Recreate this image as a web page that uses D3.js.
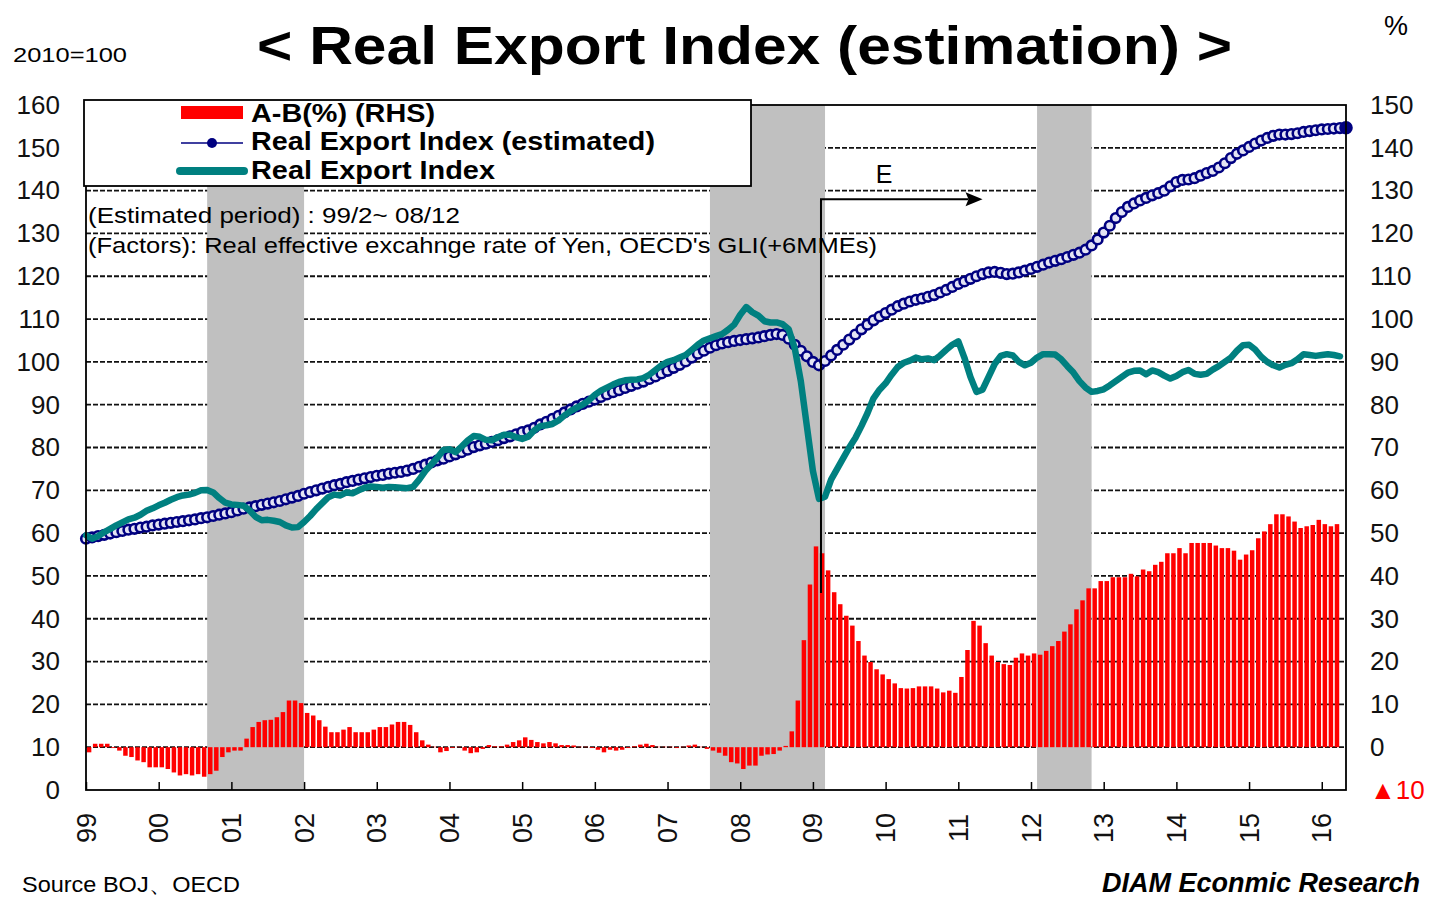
<!DOCTYPE html>
<html>
<head>
<meta charset="utf-8">
<script src="https://cdn.jsdelivr.net/npm/d3@7"></script>
<style>
  html, body { margin: 0; padding: 0; background: #fff; }
  svg { display: block; font-family: 'Liberation Sans', Arial, sans-serif; }
</style>
</head>
<body>
<svg id="chart" width="1429" height="899"></svg>
<script>

/**
 * Data (monthly, 1999/01 ~ 2016/05)
 */

const startYear = 1999;
const yearLabels = ['99', '00', '01', '02', '03', '04', '05', '06', '07', '08', '09', '10', '11', '12', '13', '14', '15', '16'];
const leftTicks = [0, 10, 20, 30, 40, 50, 60, 70, 80, 90, 100, 110, 120, 130, 140, 150, 160];
const rightTicks = [-10, 0, 10, 20, 30, 40, 50, 60, 70, 80, 90, 100, 110, 120, 130, 140, 150];

// Real Export Index (2010=100)
const exportIndex = [
  59.5, 58.7, 59.3, 60.2, 61.0, 61.8, 62.5, 63.2, 63.6, 64.3, 65.2, 65.8,
  66.5, 67.1, 67.8, 68.4, 68.8, 69.0, 69.4, 70.0, 70.1, 69.5, 68.2, 67.1,
  66.7, 66.6, 66.4, 65.3, 63.8, 63.0, 63.1, 62.9, 62.6, 61.8, 61.3, 61.4,
  62.6, 64.0, 65.6, 67.0, 68.4, 69.0, 68.8, 69.5, 69.3, 70.0, 70.6, 70.9,
  70.8, 70.6, 70.8, 70.7, 70.6, 70.5, 70.8, 72.5, 74.5, 76.0, 77.6, 79.4,
  79.6, 78.9, 80.2, 81.6, 82.7, 82.5, 81.8, 81.7, 82.4, 83.0, 83.0, 82.4,
  82.0, 82.5, 84.0, 85.0, 85.2, 85.5, 86.3, 87.5, 88.5, 89.3, 90.0, 91.0,
  92.3, 93.3, 94.0, 94.7, 95.3, 95.7, 95.8, 95.9, 96.2, 97.0, 98.1, 99.2,
  100.0, 100.4, 101.0, 101.6, 102.8, 104.0, 105.0, 105.5, 106.0, 106.5, 107.5, 108.7,
  111.0, 112.8, 111.6, 110.8, 109.5, 109.2, 109.2, 108.8, 107.6, 103.2, 95.5, 85.0,
  74.5, 68.0, 68.5, 72.5, 75.0, 77.5, 80.0, 82.2, 85.0, 88.0, 91.5, 93.5,
  95.0, 97.0, 98.8, 99.8, 100.3, 101.0, 100.6, 100.8, 100.4, 101.5, 102.8, 104.0,
  104.8, 101.0, 96.5, 93.0, 93.5, 96.5, 99.5, 101.4, 101.8, 101.5, 100.0, 99.2,
  99.8, 101.0, 101.8, 101.8, 101.7, 100.6, 99.0, 97.5, 95.5, 94.0, 93.0, 93.2,
  93.6, 94.5, 95.5, 96.5, 97.5, 97.9, 98.0, 97.1, 98.0, 97.6, 96.8, 96.1,
  96.7, 97.6, 98.1, 97.2, 97.0, 97.2, 98.2, 99.0, 100.0, 101.0, 102.6, 103.9,
  104.0, 102.9, 101.2, 100.0, 99.2, 98.7, 99.3, 99.7, 100.6, 101.8, 101.6, 101.4,
  101.6, 101.8, 101.6, 101.3, null,
];

// Real Export Index (estimated)
const estimatedIndex = [
  58.7, 59.0, 59.3, 59.6, 59.9, 60.2, 60.5, 60.8, 61.0, 61.3, 61.5, 61.8,
  62.0, 62.2, 62.4, 62.6, 62.8, 63.0, 63.2, 63.5, 63.7, 64.0, 64.3, 64.6,
  64.9, 65.3, 65.7, 66.0, 66.3, 66.6, 66.9, 67.2, 67.5, 67.9, 68.3, 68.7,
  69.2, 69.6, 70.0, 70.4, 70.8, 71.2, 71.5, 71.9, 72.2, 72.5, 72.8, 73.1,
  73.4, 73.6, 73.9, 74.1, 74.3, 74.6, 75.0, 75.5, 76.0, 76.5, 77.0, 77.4,
  77.9, 78.4, 78.9, 79.5, 80.1, 80.5, 80.9, 81.3, 81.7, 82.2, 82.6, 83.1,
  83.6, 84.0, 84.6, 85.4, 86.0, 86.7, 87.4, 88.2, 88.9, 89.6, 90.2, 90.7,
  91.2, 91.8, 92.4, 92.9, 93.4, 93.9, 94.4, 94.9, 95.4, 96.0, 96.6, 97.3,
  97.9, 98.6, 99.3, 100.1, 101.0, 101.9, 102.6, 103.3, 103.9, 104.3, 104.6, 104.9,
  105.1, 105.3, 105.5, 105.7, 106.0, 106.3, 106.5, 106.3, 105.4, 104.0, 102.6, 101.3,
  100.0, 99.2, 100.2, 101.5, 102.8, 104.0, 105.2, 106.4, 107.6, 108.7, 109.7, 110.6,
  111.4, 112.2, 113.0, 113.6, 114.1, 114.5, 114.8, 115.2, 115.6, 116.2, 116.8, 117.5,
  118.2, 118.8, 119.4, 120.0, 120.5, 120.9, 121.0, 120.8, 120.5, 120.6, 120.9, 121.3,
  121.7, 122.2, 122.7, 123.2, 123.6, 124.0, 124.5, 125.0, 125.5, 126.2, 127.2, 128.6,
  130.2, 131.8, 133.6, 135.0, 136.2, 137.0, 137.7, 138.3, 138.9, 139.4, 140.0, 141.0,
  142.0, 142.5, 142.6, 142.9, 143.5, 144.1, 144.6, 145.4, 146.4, 147.6, 148.6, 149.4,
  150.2, 151.0, 151.7, 152.3, 152.8, 153.1, 153.1, 153.2, 153.4, 153.7, 153.9, 154.1,
  154.3, 154.4, 154.5, 154.6, 154.7,
];

// A-B (%), right hand scale
const gapRHS = [
  -1.2, 0.8, 0.8, 0.8, -0.2, -0.8, -2.0, -2.3, -3.1, -3.5, -4.7, -4.7,
  -4.7, -5.1, -5.9, -6.6, -6.3, -6.6, -6.3, -6.9, -6.3, -5.5, -2.3, -1.2,
  -0.8, -0.8, 2.0, 4.7, 5.9, 6.3, 6.4, 7.0, 8.2, 10.9, 10.9, 10.3,
  8.0, 7.4, 6.3, 4.8, 3.5, 3.5, 4.1, 4.7, 3.5, 3.5, 3.5, 4.1,
  4.7, 4.7, 5.3, 5.9, 5.9, 5.2, 3.5, 1.6, 0.6, 0.1, -1.2, -0.9,
  -0.2, 0.1, -0.8, -1.4, -1.2, -0.4, 0.5, 0.2, 0.2, 0.6, 1.2, 1.6,
  2.3, 1.7, 1.2, 0.9, 1.2, 0.9, 0.5, 0.5, 0.4, 0.1, 0.1, -0.2,
  -0.6, -1.2, -0.6, -0.8, -0.6, -0.2, 0.2, 0.6, 0.8, 0.5, 0.1, 0.1,
  0.1, -0.2, 0.1, 0.4, 0.6, 0.1, -0.4, -0.8, -1.3, -2.0, -3.5, -3.8,
  -5.1, -4.3, -4.3, -2.0, -1.7, -1.6, -0.8, 0.3, 3.7, 10.9, 25.0, 38.0,
  46.9, 45.3, 41.3, 36.2, 33.4, 30.7, 28.4, 24.8, 21.4, 19.9, 18.2, 17.0,
  15.9, 14.9, 13.8, 13.7, 13.8, 14.2, 14.2, 14.2, 13.7, 12.8, 13.2, 12.7,
  16.4, 22.7, 29.5, 28.4, 24.3, 21.4, 19.9, 19.4, 19.2, 20.9, 21.9, 21.4,
  21.9, 21.6, 22.5, 23.6, 24.8, 27.0, 28.7, 32.2, 34.3, 37.1, 37.1, 38.8,
  38.8, 39.7, 39.7, 39.7, 40.5, 39.9, 41.5, 41.1, 42.6, 43.3, 45.3, 45.3,
  46.5, 45.3, 47.7, 47.7, 47.7, 47.7, 47.1, 46.5, 46.5, 45.9, 43.8, 45.0,
  46.0, 48.8, 50.4, 52.1, 54.4, 54.4, 53.9, 52.7, 51.2, 51.6, 51.9, 53.1,
  52.1, 51.6, 52.1,
];

// recession periods (shaded)
const recessions = [
  ['2000-09', '2001-12'],
  ['2007-08', '2009-02'],
  ['2012-02', '2012-10'],
];

// "E" arrow: start month, end month, bottom / top (left scale)
const arrowStart = '2009-02';
const arrowEnd = '2011-05';
const arrowLow = 46;
const arrowHigh = 138;


/**
 * Layout
 */

const plot = { left: 86, right: 1346, top: 105, bottom: 790 };
const colors = {
  red: '#ff0000',
  teal: '#008080',
  navy: '#000080',
  shade: '#c0c0c0',
};

const monthIndex = s => {
  const [y, m] = s.split('-').map(Number);
  return (y - startYear) * 12 + (m - 1);
};

const nMonths = estimatedIndex.length;
const x = d3.scaleLinear().domain([0, nMonths - 1]).range([plot.left, plot.right]);
const step = x(1) - x(0);
const yL = d3.scaleLinear().domain([0, 160]).range([plot.bottom, plot.top]);
const yR = d3.scaleLinear().domain([-10, 150]).range([plot.bottom, plot.top]);

const svg = d3.select('#chart');


// grid lines
svg.append('g')
  .selectAll('line')
  .data(leftTicks.filter(d => d > 0 && d < 160))
  .enter()
  .append('line')
  .attr('x1', plot.left)
  .attr('x2', plot.right)
  .attr('y1', d => yL(d))
  .attr('y2', d => yL(d))
  .attr('stroke', '#111')
  .attr('stroke-width', 1.8)
  .attr('stroke-dasharray', '5 2');

// recession shading
svg.append('g')
  .selectAll('rect')
  .data(recessions)
  .enter()
  .append('rect')
  .attr('x', d => x(monthIndex(d[0])))
  .attr('width', d => x(monthIndex(d[1]) + 1) - x(monthIndex(d[0])))
  .attr('y', plot.top)
  .attr('height', plot.bottom - plot.top)
  .attr('fill', colors.shade);

// A-B bars (RHS)
svg.append('g')
  .selectAll('rect')
  .data(gapRHS)
  .enter()
  .append('rect')
  .attr('x', (d, i) => x(i) + step * 0.14)
  .attr('width', step * 0.74)
  .attr('y', d => yR(Math.max(0, d)))
  .attr('height', d => Math.abs(yR(d) - yR(0)))
  .attr('fill', colors.red);

// estimated index: thin line + circle markers
const line = d3.line()
  .defined(d => d != null)
  .x((d, i) => x(i))
  .y(d => yL(d));

svg.append('path')
  .datum(estimatedIndex)
  .attr('d', line)
  .attr('fill', 'none')
  .attr('stroke', colors.navy)
  .attr('stroke-width', 1.5);

svg.append('g')
  .selectAll('circle')
  .data(estimatedIndex)
  .enter()
  .append('circle')
  .attr('cx', (d, i) => x(i))
  .attr('cy', d => yL(d))
  .attr('r', (d, i) => i === nMonths - 1 ? 5.5 : 4.8)
  .attr('fill', (d, i) => i === nMonths - 1 ? colors.navy : '#e4e4f4')
  .attr('stroke', colors.navy)
  .attr('stroke-width', 2.6);

// real export index
svg.append('path')
  .datum(exportIndex)
  .attr('d', line)
  .attr('fill', 'none')
  .attr('stroke', colors.teal)
  .attr('stroke-width', 6.5)
  .attr('stroke-linejoin', 'round')
  .attr('stroke-linecap', 'round');

// plot border
svg.append('rect')
  .attr('x', plot.left)
  .attr('y', plot.top)
  .attr('width', plot.right - plot.left)
  .attr('height', plot.bottom - plot.top)
  .attr('fill', 'none')
  .attr('stroke', '#000')
  .attr('stroke-width', 1.8);


/**
 * Axes
 */

const yearTicks = yearLabels.map((d, i) => i * 12);

const xAxis = svg.append('g')
  .attr('transform', `translate(0,${plot.bottom})`)
  .call(d3.axisBottom(x)
    .tickValues(yearTicks)
    .tickSizeInner(-8)
    .tickSizeOuter(0)
    .tickPadding(0)
    .tickFormat((d, i) => yearLabels[i]));
xAxis.select('.domain').remove();
xAxis.selectAll('.tick line').attr('stroke', '#000').attr('stroke-width', 1.5);
xAxis.selectAll('.tick text')
  .attr('font-family', "'Liberation Sans', Arial, sans-serif")
  .attr('font-size', 27)
  .attr('fill', '#111')
  .attr('text-anchor', 'middle')
  .attr('dy', null)
  .attr('y', null)
  .attr('dominant-baseline', 'central')
  .attr('transform', 'translate(0,38) rotate(-90)');

const leftAxis = svg.append('g')
  .attr('transform', `translate(${plot.left},0)`)
  .call(d3.axisLeft(yL).tickValues(leftTicks).tickSize(0).tickPadding(26));
leftAxis.select('.domain').remove();
leftAxis.selectAll('.tick text')
  .attr('font-family', "'Liberation Sans', Arial, sans-serif")
  .attr('font-size', 26)
  .attr('fill', '#111');

const rightAxis = svg.append('g')
  .attr('transform', `translate(${plot.right},0)`)
  .call(d3.axisRight(yR).tickValues(rightTicks).tickSize(0).tickPadding(24)
    .tickFormat(d => d < 0 ? `\u25B2${-d}` : d));
rightAxis.select('.domain').remove();
rightAxis.selectAll('.tick text')
  .attr('font-family', "'Liberation Sans', Arial, sans-serif")
  .attr('font-size', 26)
  .attr('fill', d => d < 0 ? colors.red : '#111');


/**
 * Annotations
 */

// E arrow
const ax0 = x(monthIndex(arrowStart)) + 2;
const ax1 = x(monthIndex(arrowEnd));
svg.append('path')
  .attr('d', `M${ax0},${yL(arrowLow)}V${yL(arrowHigh)}H${ax1 - 14}`)
  .attr('fill', 'none')
  .attr('stroke', '#000')
  .attr('stroke-width', 2);
svg.append('path')
  .attr('d', `M${ax1},${yL(arrowHigh)}l-17,-7l3,7l-3,7z`)
  .attr('fill', '#000');
svg.append('text')
  .attr('x', 884)
  .attr('y', 183)
  .attr('text-anchor', 'middle')
  .attr('font-size', 25)
  .text('E');

svg.append('text')
  .attr('x', 88)
  .attr('y', 223)
  .attr('font-size', 22)
  .attr('textLength', 372)
  .attr('lengthAdjust', 'spacingAndGlyphs')
  .text('(Estimated period) : 99/2~ 08/12');
svg.append('text')
  .attr('x', 88)
  .attr('y', 253)
  .attr('font-size', 22)
  .attr('textLength', 789)
  .attr('lengthAdjust', 'spacingAndGlyphs')
  .text("(Factors): Real effective excahnge rate of Yen, OECD's GLI(+6MMEs)");


// legend
const legend = svg.append('g');
legend.append('rect')
  .attr('x', 84).attr('y', 100)
  .attr('width', 667).attr('height', 86)
  .attr('fill', '#fff')
  .attr('stroke', '#000')
  .attr('stroke-width', 1.8);
legend.append('rect')
  .attr('x', 181).attr('y', 106)
  .attr('width', 62).attr('height', 13)
  .attr('fill', colors.red);
legend.append('line')
  .attr('x1', 181).attr('x2', 243)
  .attr('y1', 143).attr('y2', 143)
  .attr('stroke', colors.navy).attr('stroke-width', 1.5);
legend.append('circle')
  .attr('cx', 212).attr('cy', 143).attr('r', 5)
  .attr('fill', colors.navy);
legend.append('line')
  .attr('x1', 180).attr('x2', 244)
  .attr('y1', 171).attr('y2', 171)
  .attr('stroke', colors.teal).attr('stroke-width', 8)
  .attr('stroke-linecap', 'round');

const legendItems = [
  { label: 'A-B(%) (RHS)', y: 122, w: 184 },
  { label: 'Real Export Index (estimated)', y: 150, w: 404 },
  { label: 'Real Export Index', y: 179, w: 244 },
];
legend.selectAll('text.item')
  .data(legendItems)
  .enter()
  .append('text')
  .attr('class', 'item')
  .attr('x', 251)
  .attr('y', d => d.y)
  .attr('font-size', 25)
  .attr('font-weight', 'bold')
  .attr('textLength', d => d.w)
  .attr('lengthAdjust', 'spacingAndGlyphs')
  .text(d => d.label);


// titles & notes
svg.append('text')
  .attr('x', 257)
  .attr('y', 64)
  .attr('font-size', 53)
  .attr('font-weight', 'bold')
  .attr('textLength', 975)
  .attr('lengthAdjust', 'spacingAndGlyphs')
  .text('< Real Export Index (estimation) >');

svg.append('text')
  .attr('x', 13)
  .attr('y', 62)
  .attr('font-size', 21)
  .attr('textLength', 114)
  .attr('lengthAdjust', 'spacingAndGlyphs')
  .text('2010=100');

svg.append('text')
  .attr('x', 1384)
  .attr('y', 35)
  .attr('font-size', 27)
  .text('%');

svg.append('text')
  .attr('x', 22)
  .attr('y', 892)
  .attr('font-size', 22)
  .attr('textLength', 218)
  .attr('lengthAdjust', 'spacingAndGlyphs')
  .text('Source BOJ\u3001OECD');

svg.append('text')
  .attr('x', 1420)
  .attr('y', 892)
  .attr('text-anchor', 'end')
  .attr('font-size', 27)
  .attr('font-weight', 'bold')
  .attr('font-style', 'italic')
  .text('DIAM Econmic Research');

</script>
</body>
</html>
